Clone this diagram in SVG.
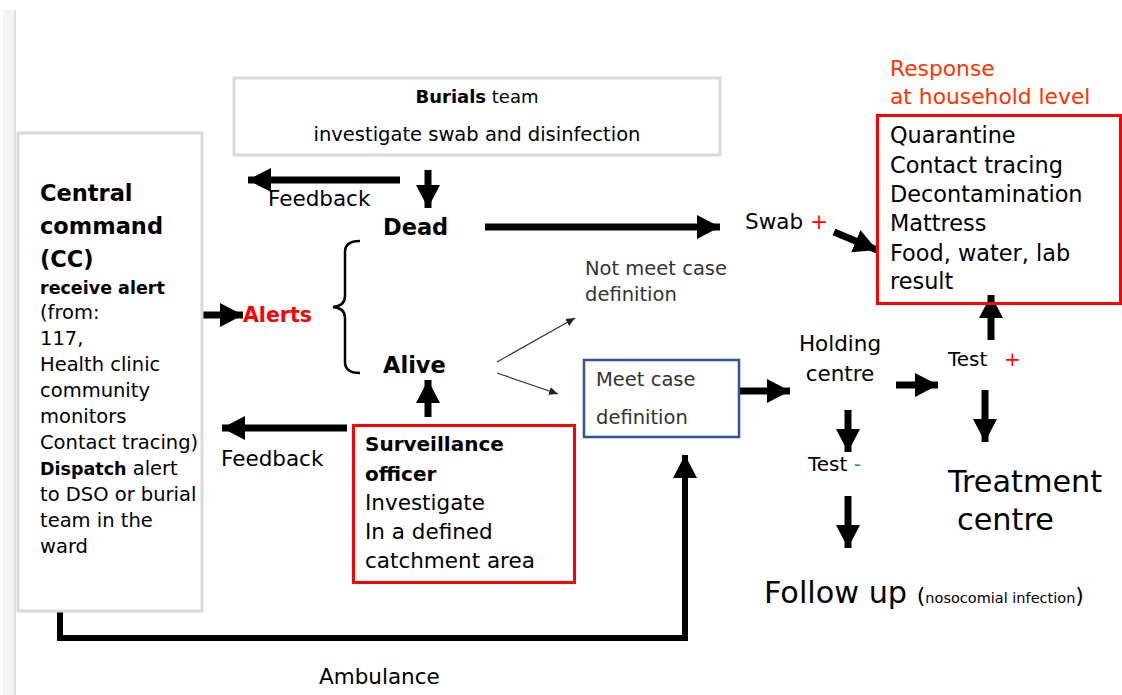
<svg xmlns="http://www.w3.org/2000/svg" width="1122" height="695" viewBox="0 0 1122 695">
<style>
text{font-family:"DejaVu Sans","Open Sans",sans-serif;fill:#000}
.b{font-weight:bold}
.red{fill:#ff0000}
.orange{fill:#ff3300}
.green{fill:#00b050}
.gray{fill:#333}
.thick{stroke:#000;stroke-width:7;fill:none}
.thin{stroke:#333;stroke-width:1.2;fill:none}
</style>
<defs>
<marker id="ah" markerUnits="userSpaceOnUse" markerWidth="26" markerHeight="26" refX="23" refY="13" orient="auto">
<path d="M0,1 L23,13 L0,25 z" fill="#000"/>
</marker>
<marker id="ahs" markerUnits="userSpaceOnUse" markerWidth="10" markerHeight="10" refX="9" refY="5" orient="auto">
<path d="M0,1 L9,5 L0,9 z" fill="#222"/>
</marker>
</defs>
<rect x="0" y="0" width="1122" height="695" fill="#fff"/>
<rect x="3" y="10" width="12" height="685" fill="#f4f4f4"/>
<line x1="15" y1="10" x2="15" y2="695" stroke="#d6d6d6" stroke-width="1.5"/>

<g id="connectors">
<line class="thick" x1="400" y1="180" x2="248" y2="180" marker-end="url(#ah)"/>
<line class="thick" x1="428" y1="170" x2="428" y2="208" marker-end="url(#ah)"/>
<line class="thick" x1="485" y1="227" x2="720" y2="227" marker-end="url(#ah)"/>
<line class="thick" x1="834" y1="232" x2="877" y2="250" marker-end="url(#ah)"/>
<line class="thick" x1="203" y1="315" x2="243" y2="315" marker-end="url(#ah)"/>
<line class="thick" x1="428" y1="417" x2="428" y2="380" marker-end="url(#ah)"/>
<line class="thick" x1="347" y1="428" x2="222" y2="428" marker-end="url(#ah)"/>
<line class="thick" x1="740" y1="391" x2="790" y2="391" marker-end="url(#ah)"/>
<line class="thick" x1="896" y1="385" x2="938" y2="385" marker-end="url(#ah)"/>
<line class="thick" x1="991" y1="340" x2="991" y2="295" marker-end="url(#ah)"/>
<line class="thick" x1="985" y1="390" x2="985" y2="442" marker-end="url(#ah)"/>
<line class="thick" x1="848" y1="410" x2="848" y2="452" marker-end="url(#ah)"/>
<line class="thick" x1="848" y1="496" x2="848" y2="548" marker-end="url(#ah)"/>
<polyline points="60,612 60,638 685,638 685,455" fill="none" stroke="#000" stroke-width="6" marker-end="url(#ah)"/>
<line class="thin" x1="497" y1="362" x2="575" y2="318" marker-end="url(#ahs)"/>
<line class="thin" x1="497" y1="373" x2="558" y2="394" marker-end="url(#ahs)"/>
<path d="M360,241 Q345,241 345,252 L345,296 Q345,306 333,307 Q345,308 345,318 L345,362 Q345,373 360,373" fill="none" stroke="#000" stroke-width="2.5"/>
</g>

<g id="burials">
<rect x="234" y="78" width="486" height="77" fill="#fff" stroke="#d9d9d9" stroke-width="3"/>
<text x="477" y="103" font-size="18" text-anchor="middle"><tspan class="b">Burials</tspan> team</text>
<text x="477" y="141" font-size="19.5" text-anchor="middle">investigate swab and disinfection</text>
</g>

<g id="central-command">
<rect x="18" y="133" width="184" height="478" fill="#fff" stroke="#d9d9d9" stroke-width="3"/>
<text class="b" font-size="22.5" x="40"><tspan y="201">Central</tspan><tspan x="40" y="234">command</tspan><tspan x="40" y="267">(CC)</tspan></text>
<text class="b" font-size="17.5" x="40" y="294">receive alert</text>
<text font-size="19.5" x="40"><tspan y="319">(from:</tspan><tspan x="40" y="345">117,</tspan><tspan x="40" y="371">Health clinic</tspan><tspan x="40" y="397">community</tspan><tspan x="40" y="423">monitors</tspan><tspan x="40" y="449">Contact tracing)</tspan><tspan x="40" y="475"><tspan class="b" font-size="17.5">Dispatch</tspan> alert</tspan><tspan x="40" y="501">to DSO or burial</tspan><tspan x="40" y="527">team in the</tspan><tspan x="40" y="553">ward</tspan></text>
</g>

<g id="feedback-top"><text font-size="21.5" x="268" y="206">Feedback</text></g>
<g id="dead"><text class="b" font-size="22.5" x="383" y="235">Dead</text></g>
<g id="alerts"><text class="b red" font-size="20.5" x="243" y="322">Alerts</text></g>
<g id="alive"><text class="b" font-size="22.5" x="383" y="373">Alive</text></g>
<g id="swab"><text font-size="21.5" x="745" y="229">Swab <tspan class="red">+</tspan></text></g>

<g id="response">
<text class="orange" font-size="21.8" x="890"><tspan y="76">Response</tspan><tspan x="890" y="104">at household level</tspan></text>
<rect x="877.5" y="115.5" width="243" height="188" fill="none" stroke="#ff0000" stroke-width="3"/>
<text font-size="22.4" x="890"><tspan y="143">Quarantine</tspan><tspan x="890" y="173">Contact tracing</tspan><tspan x="890" y="202">Decontamination</tspan><tspan x="890" y="231">Mattress</tspan><tspan x="890" y="261">Food, water, lab</tspan><tspan x="890" y="289">result</tspan></text>
</g>

<g id="not-meet">
<text class="gray" font-size="19.5" x="585"><tspan y="275">Not meet case</tspan><tspan x="585" y="301">definition</tspan></text>
</g>

<g id="meet-case">
<rect x="584" y="360" width="155" height="77" fill="#fff" stroke="#2f5597" stroke-width="2.5"/>
<text class="gray" font-size="19.5" x="596"><tspan y="386">Meet case</tspan><tspan x="596" y="424">definition</tspan></text>
</g>

<g id="surveillance">
<rect x="353.5" y="425.5" width="221" height="157" fill="#fff" stroke="#ff0000" stroke-width="3"/>
<text class="b" font-size="20" x="365"><tspan y="451">Surveillance</tspan><tspan x="365" y="481">officer</tspan></text>
<text font-size="21.5" x="365"><tspan y="510">Investigate</tspan><tspan x="365" y="539">In a defined</tspan><tspan x="365" y="568">catchment area</tspan></text>
</g>

<g id="feedback-bottom"><text font-size="21.5" x="221" y="466">Feedback</text></g>

<g id="holding"><text font-size="21.5" x="840" text-anchor="middle"><tspan y="351">Holding</tspan><tspan x="840" y="381">centre</tspan></text></g>
<g id="test-pos"><text font-size="20" x="948" y="366">Test<tspan class="red" x="1004">+</tspan></text></g>
<g id="test-neg"><text font-size="20" x="808" y="471">Test <tspan class="green">-</tspan></text></g>
<g id="treatment"><text font-size="30.3" x="948" y="492">Treatment</text><text font-size="30.3" x="957" y="530">centre</text></g>
<g id="follow-up"><text font-size="30.3" x="764" y="603">Follow up <tspan font-size="22">(</tspan><tspan font-size="14.5">nosocomial infection</tspan><tspan font-size="22">)</tspan></text></g>
<g id="ambulance"><text font-size="21.5" x="319" y="684">Ambulance</text></g>
</svg>
